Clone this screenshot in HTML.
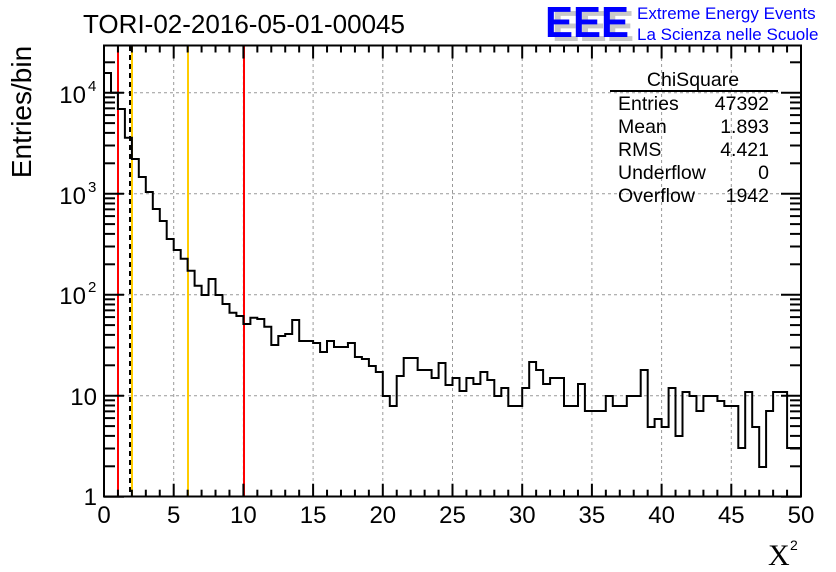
<!DOCTYPE html>
<html><head><meta charset="utf-8"><style>
body{margin:0;background:#fff;}
svg{display:block;font-family:"Liberation Sans",sans-serif;}
</style></head><body>
<svg id="s" width="836" height="572" viewBox="0 0 836 572" xmlns="http://www.w3.org/2000/svg">
<rect width="836" height="572" fill="#fff"/>
<g id="grid" stroke="#999" stroke-width="1" stroke-dasharray="3,3"></g>
<line x1="118" y1="46" x2="118" y2="496" stroke="#f00" stroke-width="2"/>
<line x1="244" y1="46" x2="244" y2="496" stroke="#f00" stroke-width="2"/>
<line x1="132" y1="46" x2="132" y2="496" stroke="#ffcc00" stroke-width="2"/>
<line x1="188" y1="46" x2="188" y2="496" stroke="#ffcc00" stroke-width="2"/>
<line x1="130" y1="46" x2="130" y2="496" stroke="#000" stroke-width="2" stroke-dasharray="5,4"/>
<path id="h" fill="none" stroke="#000" stroke-width="2"/>
<g id="ticks" stroke="#000" stroke-width="2"></g>
<rect x="104" y="45.5" width="697" height="451" fill="none" stroke="#000" stroke-width="2"/>
<text x="83" y="33" font-size="25.5" textLength="322" lengthAdjust="spacingAndGlyphs">TORI-02-2016-05-01-00045</text>
<text transform="translate(31,112) rotate(-90)" font-size="28" text-anchor="middle">Entries/bin</text>
<g font-size="24" text-anchor="end">
<text x="97" y="505">1</text>
<text x="97" y="405">10</text>
<text x="86" y="304">10</text><text x="88" y="292" text-anchor="start" font-size="15">2</text>
<text x="86" y="204">10</text><text x="88" y="192" text-anchor="start" font-size="15">3</text>
<text x="86" y="103">10</text><text x="88" y="91" text-anchor="start" font-size="15">4</text>
</g>
<g font-size="24" text-anchor="middle" id="xl"></g>
<text x="768" y="565" font-size="30" font-family="Liberation Serif,serif">X</text><text x="790" y="550" font-size="14">2</text>
<text x="693" y="86" font-size="19.5" text-anchor="middle">ChiSquare</text>
<line x1="610" y1="91" x2="778" y2="91" stroke="#000" stroke-width="2"/>
<g font-size="19.5">
<text x="618" y="110">Entries</text><text x="769" y="110" text-anchor="end">47392</text>
<text x="618" y="133">Mean</text><text x="769" y="133" text-anchor="end">1.893</text>
<text x="618" y="156">RMS</text><text x="769" y="156" text-anchor="end">4.421</text>
<text x="618" y="179">Underflow</text><text x="769" y="179" text-anchor="end">0</text>
<text x="618" y="202">Overflow</text><text x="769" y="202" text-anchor="end">1942</text>
</g>
<text x="552" y="41" font-size="44" fill="#c8c8c8" font-weight="bold" textLength="82" lengthAdjust="spacingAndGlyphs">EEE</text>
<text x="545" y="37" font-size="44" fill="#0000ff" font-weight="bold" textLength="84" lengthAdjust="spacingAndGlyphs">EEE</text>
<text x="637" y="19" font-size="17" fill="#0000ff">Extreme Energy Events</text>
<text x="637" y="40" font-size="17" fill="#0000ff">La Scienza nelle Scuole</text>
</svg>
<script>
var v=[73,92.7,109,137.7,159,177,192,209,221,239,250,258.7,270.7,285.7,295,279,295,304,312.7,316,324,317.7,319,326.7,345,336,334,320,341,341,343,352,341,347,347,343,357,359,366,372,396,406,376,358,358,370,370,378,363,385,378,391,378,384,372,380,396,388,406,406,388,362,370,384,378,378,406,406,384,411,411,411,396,406,406,396,396,370,427,419,427,388,436,392,396,411,396,396,401,406,406,448,392,427,467,411,392,392,448,448];
var x0=104,w=697/100,d="M"+x0+",496.7";
for(var i=0;i<100;i++){var a=x0+i*w,b=a+w;d+=" L"+a.toFixed(1)+","+v[i]+" L"+b.toFixed(1)+","+v[i];}
d+=" L801,496.7";
document.getElementById("h").setAttribute("d",d);
var NS="http://www.w3.org/2000/svg";
function ln(g,x1,y1,x2,y2){var l=document.createElementNS(NS,"line");l.setAttribute("x1",x1);l.setAttribute("y1",y1);l.setAttribute("x2",x2);l.setAttribute("y2",y2);document.getElementById(g).appendChild(l);}
var sx=697/50;
for(var t=0;t<=50;t++){var x=x0+t*sx,L=(t%5==0)?13:7;ln("ticks",x,496.7,x,496.7-L);ln("ticks",x,45.5,x,45.5+L);
 if(t%5==0){if(t>0&&t<50)ln("grid",x,46,x,496);var tx=document.createElementNS(NS,"text");tx.setAttribute("x",x);tx.setAttribute("y",523);tx.textContent=t;document.getElementById("xl").appendChild(tx);}}
var dec=101;
for(var e=0;e<5;e++){for(var m=1;m<10;m++){var y=496.7-(e+Math.log10(m))*dec;if(y<46)continue;var L=(m==1)?20:11;ln("ticks",104,y,104+L,y);ln("ticks",801,y,801-L,y);if(m==1&&e>0)ln("grid",104,y,801,y);}}
</script>
</body></html>
